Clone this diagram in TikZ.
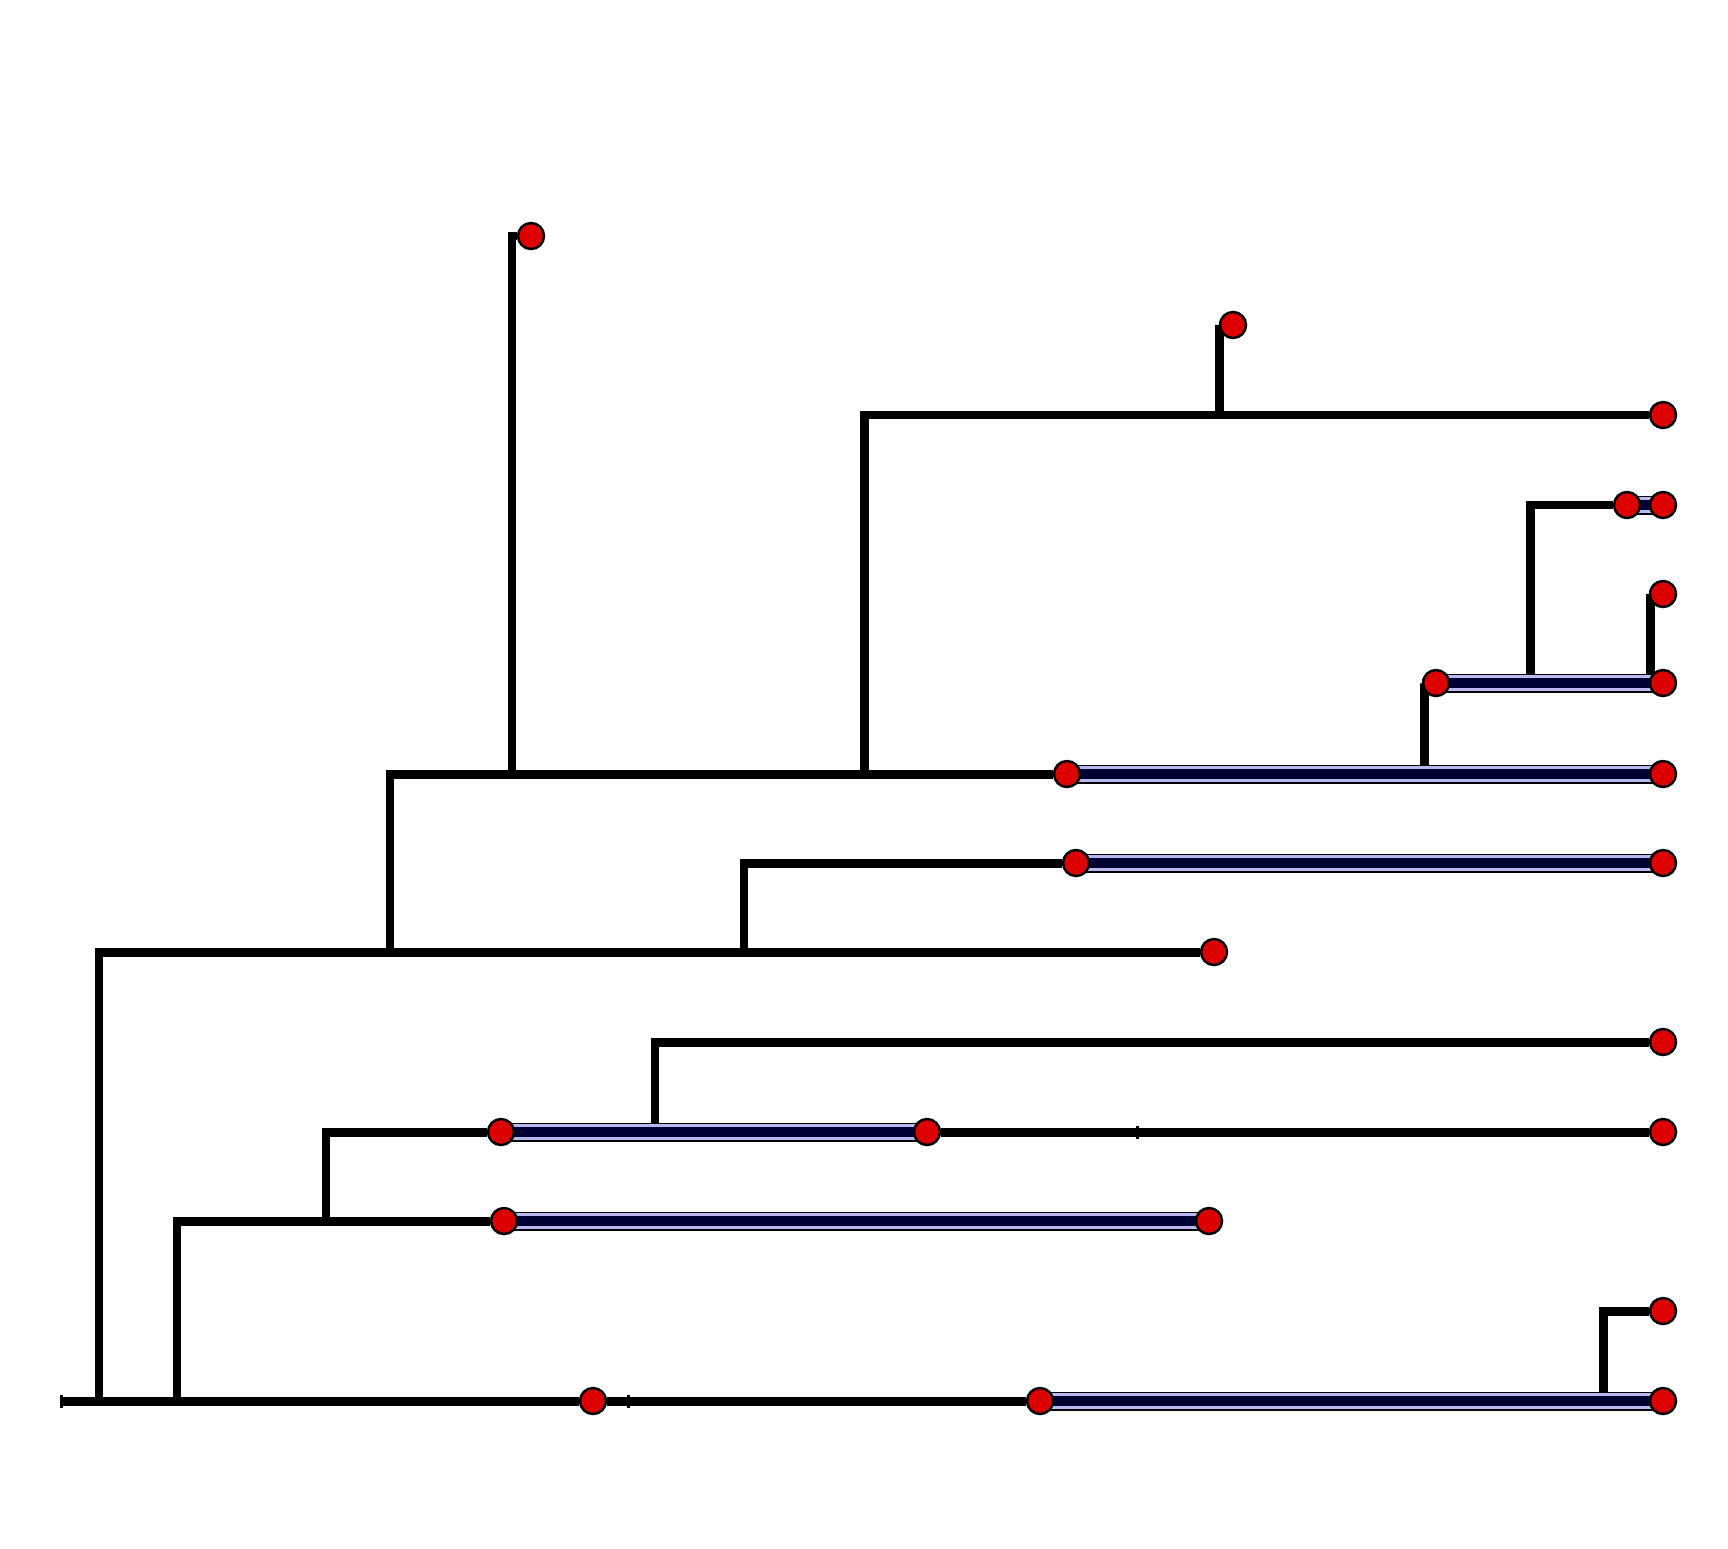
\documentclass[tikz,border=0pt]{standalone}
\usepackage{tikz}
\usetikzlibrary{backgrounds}
\definecolor{TipRed}{HTML}{DD0000}
\definecolor{BarNavy}{HTML}{000033}
\definecolor{BarLilac}{HTML}{B8B8EE}

\begin{document}
\begin{tikzpicture}[
  x=0.01cm,y=-0.01cm,
  tip/.style={circle,draw=black,fill=TipRed,line width=0.7pt,minimum size=2.6mm,inner sep=0pt},
  nick/.style={rectangle,fill=black,minimum width=0.3mm,minimum height=1.3mm,inner sep=0pt},
  branch/.style={draw=black,line width=2.55pt,line join=miter},
  bar/.style={draw=black,line width=5.4pt,
    postaction={draw=BarLilac,line width=4.6pt},
    postaction={draw=BarNavy,line width=2.8pt}}
]
  \useasboundingbox (0,0) rectangle (1728,1548);
  % inner points of the tree
  \coordinate (n0) at (99,1401);
  \coordinate (n1) at (177,1401);
  \coordinate (n2) at (390,952);
  \coordinate (n3) at (744,952);
  \coordinate (n4) at (512,774);
  \coordinate (n5) at (864,774);
  \coordinate (n6) at (1219,415);
  \coordinate (n7) at (1424,774);
  \coordinate (n8) at (1530,683);
  \coordinate (n9) at (1650,683);
  \coordinate (n10) at (326,1221);
  \coordinate (n11) at (655,1132);
  \coordinate (n12) at (1603,1401);
  % small marks
  \node[nick] (root) at (61,1401) {};
  \node[nick] (k1) at (628,1401) {};
  \node[nick] (k2) at (1137,1132) {};
  % tips
  \node[tip] (t1) at (531,236) {};
  \node[tip] (t2) at (1233,325) {};
  \node[tip] (t3) at (1663,415) {};
  \node[tip] (t4a) at (1627,505) {};
  \node[tip] (t4) at (1663,505) {};
  \node[tip] (t5) at (1663,594) {};
  \node[tip] (t6a) at (1436,683) {};
  \node[tip] (t6) at (1663,683) {};
  \node[tip] (t7a) at (1067,774) {};
  \node[tip] (t7) at (1663,774) {};
  \node[tip] (t8a) at (1076,863) {};
  \node[tip] (t8) at (1663,863) {};
  \node[tip] (t9) at (1214,952) {};
  \node[tip] (t10) at (1663,1042) {};
  \node[tip] (t11a) at (501,1132) {};
  \node[tip] (t11b) at (927,1132) {};
  \node[tip] (t11) at (1663,1132) {};
  \node[tip] (t12a) at (504,1221) {};
  \node[tip] (t12) at (1209,1221) {};
  \node[tip] (t13) at (1663,1311) {};
  \node[tip] (t14a) at (593,1401) {};
  \node[tip] (t14b) at (1040,1401) {};
  \node[tip] (t14) at (1663,1401) {};
  \begin{scope}[on background layer]
    \draw[branch] (root.center) -- (t14a);
    \draw[branch] (t14a) -- (t14b);
    \draw[branch] (n12) |- (t13);
    \draw[branch] (n0) |- (t9);
    \draw[branch] (n2) |- (t7a);
    \draw[branch] (n4) |- (t1);
    \draw[branch] (n5) |- (t3);
    \draw[branch] (n6) |- (t2);
    \draw[branch] (n7) |- (t6a);
    \draw[branch] (n8) |- (t4a);
    \draw[branch] (n9) |- (t5);
    \draw[branch] (n3) |- (t8a);
    \draw[branch] (n1) |- (t12a);
    \draw[branch] (n10) |- (t11a);
    \draw[branch] (n11) |- (t10);
    \draw[branch] (t11b) -- (t11);
    % double bars
    \draw[bar] (t14b.center) -- (t14.center);
    \draw[bar] (t7a.center) -- (t7.center);
    \draw[bar] (t6a.center) -- (t6.center);
    \draw[bar] (t4a.center) -- (t4.center);
    \draw[bar] (t8a.center) -- (t8.center);
    \draw[bar] (t12a.center) -- (t12.center);
    \draw[bar] (t11a.center) -- (t11b.center);
  \end{scope}
\end{tikzpicture}
\end{document}
